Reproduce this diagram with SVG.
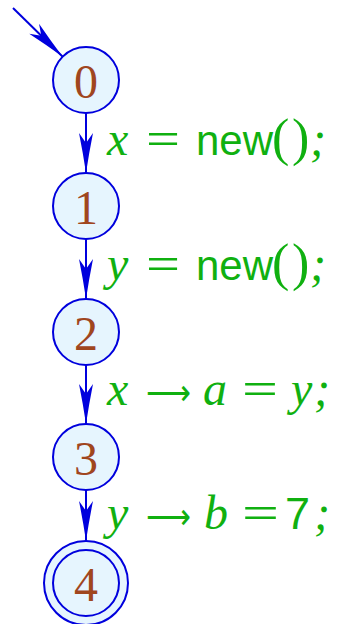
<svg xmlns="http://www.w3.org/2000/svg" width="338" height="624" viewBox="0 0 338 624">
<defs>
<marker id="ah" markerUnits="userSpaceOnUse" viewBox="-41 -8 42 16" refX="0" refY="0" markerWidth="42" markerHeight="16" orient="auto">
<path d="M0,0 Q-20,-3 -40,-7 L-30,0 L-40,7 Q-20,3 0,0 Z" fill="#0000dd"/>
</marker>
</defs>
<style>
.node circle{fill:#e6f5fe;stroke:#0000dd;stroke-width:2}
.num{font-family:"Liberation Serif",serif;font-size:48px;fill:#a0461e;text-anchor:middle}
.edge{stroke:#0000dd;stroke-width:2;fill:none;marker-end:url(#ah)}
.lbl{fill:#10b010}
.it{font-family:"Liberation Serif",serif;font-style:italic;font-size:48px}
.rm{font-family:"Liberation Serif",serif;font-size:48px}
.par{font-family:"Liberation Serif",serif;font-size:52px}
.sf{font-family:"Liberation Sans",sans-serif;font-size:42px}
.sym{font-family:"DejaVu Sans",sans-serif;font-size:36px}
</style>
<g id="connectors">
<line class="edge" x1="13" y1="8" x2="62.7" y2="56.7"/>
<line class="edge" x1="86" y1="113" x2="86" y2="173"/>
<line class="edge" x1="86" y1="239" x2="86" y2="299"/>
<line class="edge" x1="86" y1="365" x2="86" y2="424"/>
<line class="edge" x1="86" y1="490" x2="86" y2="541"/>
</g>
<g id="node0" class="node"><circle cx="86" cy="80" r="33"/><text class="num" x="86" y="98">0</text></g>
<g id="node1" class="node"><circle cx="86" cy="206" r="33"/><text class="num" x="86" y="224">1</text></g>
<g id="node2" class="node"><circle cx="86" cy="332" r="33"/><text class="num" x="86" y="350">2</text></g>
<g id="node3" class="node"><circle cx="86" cy="457" r="33"/><text class="num" x="86" y="475">3</text></g>
<g id="node4" class="node"><circle cx="86" cy="583" r="42"/><circle cx="86" cy="583" r="33"/><text class="num" x="86" y="601">4</text></g>
<g id="labels" class="lbl">
<text y="155"><tspan class="it" x="107">x</tspan></text>
<text class="rm" x="146" y="155" textLength="34" lengthAdjust="spacingAndGlyphs">=</text>
<text y="155"><tspan class="sf" x="196">new</tspan><tspan class="par" x="272">(</tspan><tspan class="par" x="292">)</tspan><tspan class="it" x="310">;</tspan></text>

<text y="280"><tspan class="it" x="107">y</tspan></text>
<text class="rm" x="146" y="280" textLength="34" lengthAdjust="spacingAndGlyphs">=</text>
<text y="280"><tspan class="sf" x="196">new</tspan><tspan class="par" x="272">(</tspan><tspan class="par" x="292">)</tspan><tspan class="it" x="310">;</tspan></text>

<text y="405"><tspan class="it" x="107">x</tspan></text>
<text class="sym" x="146" y="405" textLength="45" lengthAdjust="spacingAndGlyphs">⟶</text>
<text y="405"><tspan class="it" x="203">a</tspan></text>
<text class="rm" x="242" y="405" textLength="36" lengthAdjust="spacingAndGlyphs">=</text>
<text y="405"><tspan class="it" x="291">y</tspan><tspan class="it" x="314">;</tspan></text>

<text y="529"><tspan class="it" x="107">y</tspan></text>
<text class="sym" x="146" y="529" textLength="45" lengthAdjust="spacingAndGlyphs">⟶</text>
<text y="529"><tspan class="it" x="204">b</tspan></text>
<text class="rm" x="242" y="529" textLength="37" lengthAdjust="spacingAndGlyphs">=</text>
<text y="529"><tspan class="sf" x="285" style="font-size:45px">7</tspan><tspan class="it" x="314">;</tspan></text>
</g>
</svg>
